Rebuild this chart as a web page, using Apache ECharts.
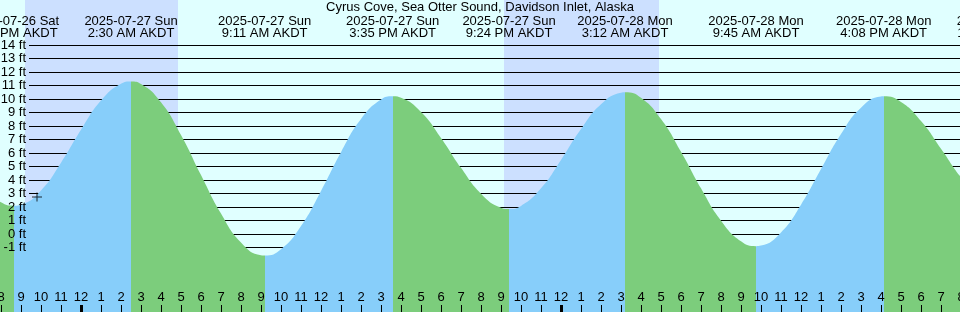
<!DOCTYPE html>
<html><head><meta charset="utf-8">
<script src="https://cdn.jsdelivr.net/npm/echarts@6/dist/echarts.min.js"></script>
<style>html,body{margin:0;padding:0;background:#e0ffff}#c{width:960px;height:312px}</style>
</head><body><div id="c"></div>
<script>
// ---------- data ----------
const chartTitle = 'Cyrus Cove, Sea Otter Sound, Davidson Inlet, Alaska';
const refDate = '2025-07-27';
const zone = 'AKDT';
const unit = 'ft';
const extremeDates = ['2025-07-26 Sat','2025-07-27 Sun','2025-07-27 Sun','2025-07-27 Sun','2025-07-27 Sun','2025-07-28 Mon','2025-07-28 Mon','2025-07-28 Mon','2025-07-28 Mon'];
const extremeTimes = ['8:40 PM','2:30 AM','9:11 AM','3:35 PM','9:24 PM','3:12 AM','9:45 AM','4:08 PM','10:10 PM'];
const extremeHeights = [2.1, 11.3, -1.6, 10.2, 1.85, 10.5, -0.9, 10.2, 1.8];
const hourlyStart = '2025-07-26 7:00 PM';
const hourlyHeights = [3.56, 2.35, 2.17, 3.23, 5.28, 7.72, 9.88, 11.13, 11.12, 9.76,
  7.34, 4.37, 1.51, -0.63, -1.58, -1.13, 0.59, 3.19, 6.06, 8.51,
  9.96, 10.09, 9.04, 7.12, 4.90, 2.99, 1.95, 2.08, 3.38, 5.48,
  7.77, 9.62, 10.47, 10.09, 8.51, 6.09, 3.38, 0.99, -0.54, -0.86,
  0.12, 2.17, 4.81, 7.41, 9.36, 10.19, 9.78, 8.37, 6.32, 4.20, 2.55];
const sunsets = ['2025-07-26 9:12 PM', '2025-07-27 9:09 PM'];
const sunrises = ['2025-07-27 4:51 AM', '2025-07-28 4:54 AM'];
const nowTime = '2025-07-26 9:48 PM';
const nowHeight = 2.75;
const heightTicks = [-1,0,1,2,3,4,5,6,7,8,9,10,11,12,13,14];

// ---------- layout / style ----------
const W = 960, H = 312, PAD = 120;
const PX_PER_HOUR = 20, MIDNIGHT_PX = 81;
const FT_PX = 13.5, TOP_TICK_PX = 45;
const GRIDLINE_START_PX = 29;
const DAY = '#e0ffff', NIGHT = '#cce0ff', RISE = '#87cefa', FALL = '#7ccd7c';
const FONT = 'Liberation Sans', FS = 13;

function toHours(dateStr, hm, ampm) {
  const [y, m, d] = dateStr.split('-').map(Number);
  const [ry, rm, rd] = refDate.split('-').map(Number);
  const days = (Date.UTC(y, m - 1, d) - Date.UTC(ry, rm - 1, rd)) / 86400000;
  let [hh, mm] = hm.split(':').map(Number);
  if (ampm === 'PM' && hh !== 12) hh += 12;
  if (ampm === 'AM' && hh === 12) hh = 0;
  return days * 24 + hh + mm / 60;
}
function parseFull(s) { const p = s.split(' '); return toHours(p[0], p[1], p[2]); }

const extHours = extremeDates.map((d, i) => {
  const p = extremeTimes[i].split(' ');
  return toHours(d.split(' ')[0], p[0], p[1]);
});
const t0 = parseFull(hourlyStart);
let curve = hourlyHeights.map((h, i) => [t0 + i, h]);
extHours.forEach((t, i) => curve.push([t, extremeHeights[i]]));
curve.sort((a, b) => a[0] - b[0]);

const xMin = (-PAD - MIDNIGHT_PX) / PX_PER_HOUR;
const xMax = (W + PAD - MIDNIGHT_PX) / PX_PER_HOUR;
const yMax = heightTicks[heightTicks.length - 1] + TOP_TICK_PX / FT_PX;
const yMin = heightTicks[heightTicks.length - 1] - (H - TOP_TICK_PX) / FT_PX;
const gridStartT = (GRIDLINE_START_PX - MIDNIGHT_PX) / PX_PER_HOUR;

const hourTicks = [];
for (let h = Math.ceil(xMin); h <= Math.floor(xMax); h++) hourTicks.push(h);
const midnights = hourTicks.filter(h => ((h % 24) + 24) % 24 === 0);
const nights = sunsets.map((s, i) => [parseFull(s), parseFull(sunrises[i])]);

const pieces = [];
pieces.push({ lt: extHours[0], color: extremeHeights[0] < extremeHeights[1] ? FALL : RISE });
for (let i = 0; i < extHours.length - 1; i++) {
  pieces.push({ gte: extHours[i], lt: extHours[i + 1], color: extremeHeights[i + 1] > extremeHeights[i] ? RISE : FALL });
}
const li = extHours.length - 1;
pieces.push({ gte: extHours[li], color: extremeHeights[li] < extremeHeights[li - 1] ? RISE : FALL });

const fmtHour = v => { const hh = ((v % 24) + 24) % 24; return String(hh % 12 === 0 ? 12 : hh % 12); };
const fmtExt = v => {
  let i = 0, best = Infinity;
  extHours.forEach((t, k) => { if (Math.abs(t - v) < best) { best = Math.abs(t - v); i = k; } });
  return extremeDates[i] + '\n' + extremeTimes[i] + ' ' + zone;
};
const txt = { color: '#000', fontFamily: FONT, fontSize: FS };

const chart = echarts.init(document.getElementById('c'), null, { renderer: 'canvas', width: W, height: H });
chart.setOption({
  animation: false,
  backgroundColor: DAY,
  title: { text: chartTitle, left: 'center', top: 1, padding: 0, z: 10, textStyle: Object.assign({ fontWeight: 'normal' }, txt) },
  grid: [
    { left: -PAD, right: -PAD, top: 0, bottom: 0, containLabel: false, outerBoundsMode: 'none' },
    { left: GRIDLINE_START_PX, right: -PAD, top: 0, bottom: 0, containLabel: false, outerBoundsMode: 'none' }
  ],
  xAxis: [
    { gridIndex: 0, type: 'value', min: xMin, max: xMax, position: 'bottom', z: 5,
      axisLine: { show: false, onZero: false }, splitLine: { show: false },
      axisTick: { show: true, inside: true, length: 7, lineStyle: { color: '#000', width: 1 }, customValues: hourTicks },
      axisLabel: Object.assign({ inside: true, margin: 8, customValues: hourTicks, formatter: fmtHour }, txt) },
    { gridIndex: 0, type: 'value', min: xMin, max: xMax, position: 'bottom', z: 5,
      axisLine: { show: false, onZero: false }, splitLine: { show: false },
      axisTick: { show: true, inside: true, length: 7, lineStyle: { color: '#000', width: 3 }, customValues: midnights },
      axisLabel: { show: false } },
    { gridIndex: 0, type: 'value', min: xMin, max: xMax, position: 'top', z: 5,
      axisLine: { show: false, onZero: false }, splitLine: { show: false }, axisTick: { show: false },
      axisLabel: Object.assign({ inside: true, margin: 15, customValues: extHours, formatter: fmtExt, lineHeight: 12, align: 'center' }, txt) },
    { gridIndex: 1, type: 'value', min: gridStartT, max: xMax, show: false }
  ],
  yAxis: [
    { gridIndex: 0, type: 'value', min: yMin, max: yMax, show: false },
    { gridIndex: 1, type: 'value', min: yMin, max: yMax, position: 'left', z: 5,
      axisLine: { show: false, onZero: false }, splitLine: { show: false },
      axisTick: { show: false, customValues: heightTicks },
      axisLabel: Object.assign({ margin: 3, customValues: heightTicks, formatter: v => v + ' ' + unit }, txt) },
    { gridIndex: 1, type: 'value', min: yMin, max: yMax, position: 'left', z: 2,
      axisLine: { show: false, onZero: false },
      axisTick: { show: false, customValues: heightTicks }, axisLabel: { show: false },
      splitLine: { show: true, lineStyle: { color: '#000', width: 1 } } }
  ],
  visualMap: { type: 'piecewise', show: false, dimension: 0, seriesIndex: 1, pieces: pieces },
  series: [
    { type: 'line', xAxisIndex: 0, yAxisIndex: 0, data: [], silent: true, z: 1,
      markArea: { silent: true, z: 1, itemStyle: { color: NIGHT, opacity: 1, borderWidth: 0 },
        data: nights.map(n => [{ xAxis: n[0] }, { xAxis: n[1] }]) } },
    { type: 'line', xAxisIndex: 0, yAxisIndex: 0, data: curve, smooth: true, showSymbol: false, silent: true, z: 3,
      lineStyle: { width: 0 }, areaStyle: { opacity: 1, origin: 'start' } },
    { type: 'scatter', xAxisIndex: 0, yAxisIndex: 0, data: [[parseFull(nowTime), nowHeight]], silent: true, z: 4,
      symbol: 'path://M0,4H10V5H0ZM4.5,0H5.5V9H4.5Z', symbolSize: [10, 9], itemStyle: { color: '#000' } }
  ]
});
</script></body></html>
